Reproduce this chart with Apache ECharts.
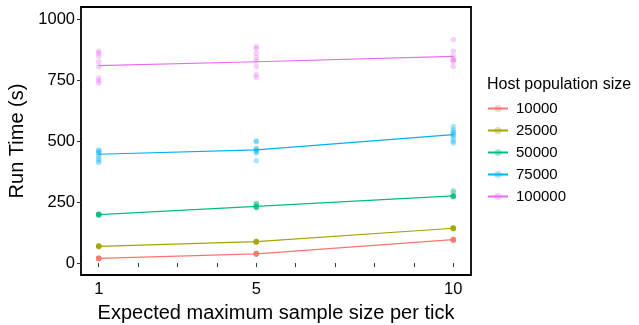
<!DOCTYPE html>
<html><head><meta charset="utf-8">
<script src="https://cdn.jsdelivr.net/npm/echarts@6/dist/echarts.min.js"></script>
<style>html,body{margin:0;padding:0;background:#fff}#c{width:639px;height:325px}</style>
</head><body><div id="c"></div>
<script>
const xValues = [1, 5, 10];
const groups = ['10000', '25000', '50000', '75000', '100000'];
const colors = ['#F8766D', '#A3A500', '#00BF7D', '#00B0F6', '#E76BF3'];
const xTickValues = [1, 2, 3, 4, 5, 6, 7, 8, 9, 10];
const xLabelValues = [1, 5, 10];
const yTickValues = [0, 250, 500, 750, 1000];

// mean run time per x (line)
const mean10000 = [19, 38, 96];
const mean25000 = [69, 88, 143];
const mean50000 = [199, 233, 276];
const mean75000 = [447, 465, 528];
const mean100000 = [811, 827, 849];

// replicate run times per x
const reps10000 = [[18, 19, 20, 19, 21, 18, 20, 19], [36, 38, 39, 37, 40, 38, 37, 39], [93, 95, 97, 96, 98, 94, 97, 96]];
const reps25000 = [[67, 68, 69, 70, 71, 69, 68, 70], [86, 87, 88, 89, 90, 88, 87, 89], [140, 142, 143, 144, 145, 143, 142, 144]];
const reps50000 = [[197, 199, 200, 201, 198, 202, 199, 200], [228, 230, 232, 235, 246, 244, 231, 229], [272, 275, 276, 278, 297, 290, 274, 273]];
const reps75000 = [[413, 420, 430, 440, 450, 455, 460, 465], [420, 451, 458, 462, 468, 472, 498, 502], [493, 500, 512, 522, 528, 534, 540, 548, 561]];
const reps100000 = [[740, 749, 760, 808, 827, 850, 862, 870], [762, 775, 808, 830, 845, 862, 880, 890], [808, 828, 833, 838, 850, 870, 918]];

const means = [mean10000, mean25000, mean50000, mean75000, mean100000];
const reps = [reps10000, reps25000, reps50000, reps75000, reps100000];

const font = 'Liberation Sans, Arial, Helvetica, sans-serif';
const series = [];
groups.forEach((g, i) => {
  series.push({
    name: g, type: 'line', data: xValues.map((x, j) => [x, means[i][j]]),
    symbol: 'circle', symbolSize: 5, showSymbol: false,
    lineStyle: { color: colors[i], width: 1.2 },
    itemStyle: { color: colors[i], opacity: 0.35 },
    silent: true, animation: false, z: 3
  });
  const pts = [];
  xValues.forEach((x, j) => reps[i][j].forEach(v => pts.push([x, v])));
  series.push({
    name: g, type: 'scatter', data: pts, symbolSize: 5.5,
    itemStyle: { color: colors[i], opacity: 0.32 },
    silent: true, animation: false, z: 2
  });
});

const chart = echarts.init(document.getElementById('c'), null, { renderer: 'canvas' });
chart.setOption({
  animation: false,
  backgroundColor: '#fff',
  title: {
    text: 'Host population size', left: 482, top: 72,
    textStyle: { fontFamily: font, fontSize: 16, fontWeight: 'normal', color: '#000' }
  },
  legend: {
    orient: 'vertical', left: 487, top: 101, itemGap: 7, padding: 0,
    itemWidth: 20, itemHeight: 9,
    data: groups,
    textStyle: { fontFamily: font, fontSize: 15, color: '#000', padding: [0, 0, 0, 3] }
  },
  grid: { left: 81, right: 168, top: 7, bottom: 50, show: true, borderColor: '#000', borderWidth: 1.8, backgroundColor: 'transparent', containLabel: false, outerBoundsMode: 'none' },
  xAxis: {
    type: 'value', min: 0.55, max: 10.45,
    name: 'Expected maximum sample size per tick', nameLocation: 'middle', nameGap: 28,
    nameTextStyle: { fontFamily: font, fontSize: 20, color: '#000' },
    axisLine: { show: false },
    axisTick: { show: true, length: 4, customValues: xTickValues, lineStyle: { color: '#333', width: 1 } },
    axisLabel: { customValues: xLabelValues, fontFamily: font, fontSize: 16.5, color: '#000', margin: 6, formatter: v => String(v) },
    splitLine: { show: false }
  },
  yAxis: {
    type: 'value', min: -49, max: 1052,
    name: 'Run Time (s)', nameLocation: 'middle', nameGap: 52, nameRotate: 90,
    nameTextStyle: { fontFamily: font, fontSize: 20, color: '#000' },
    axisLine: { show: false },
    axisTick: { show: true, length: 4, customValues: yTickValues, lineStyle: { color: '#333', width: 1 } },
    axisLabel: { customValues: yTickValues, fontFamily: font, fontSize: 16.5, color: '#000', margin: 6, formatter: v => String(v) },
    splitLine: { show: false }
  },
  series: series
});
</script></body></html>
